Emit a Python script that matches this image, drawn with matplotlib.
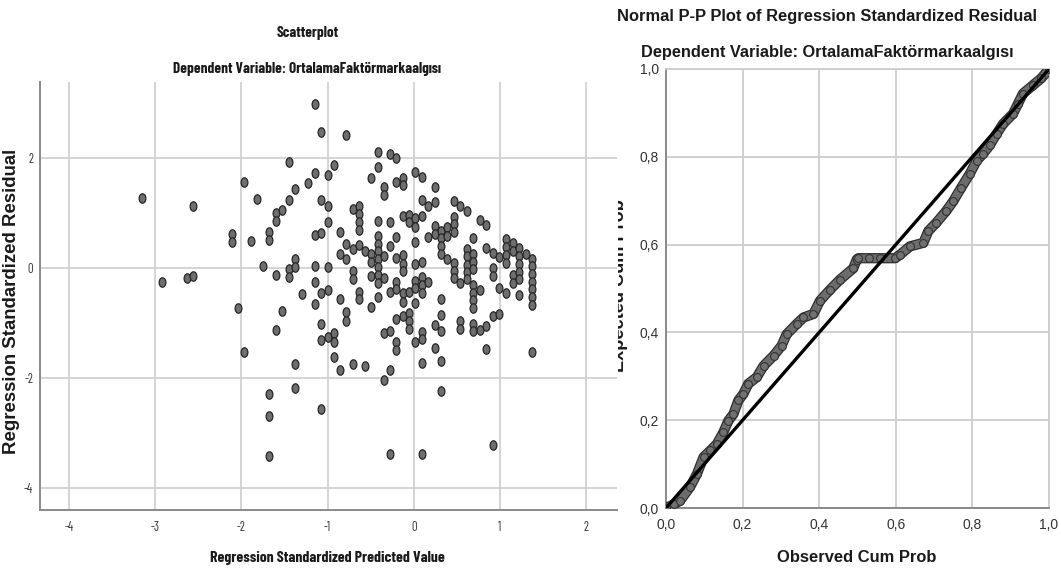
import matplotlib
matplotlib.use('Agg')
import numpy as np
import matplotlib.pyplot as plt
import matplotlib.patheffects as pe
from matplotlib import font_manager as fm
from matplotlib.path import Path
from matplotlib.transforms import Affine2D, Bbox, TransformedBbox

plt.rcParams['axes.unicode_minus'] = False

# --- scatterplot data: predicted value columns and the residuals in each column
pred_cols = [-3.15, -2.92, -2.63, -2.56, -2.11, -2.04, -1.97, -1.89, -1.82, -1.75,
             -1.68, -1.60, -1.53, -1.45, -1.38, -1.30, -1.23, -1.15, -1.08, -1.00,
             -0.93, -0.86, -0.79, -0.71, -0.64, -0.57, -0.49, -0.42, -0.34, -0.27,
             -0.20, -0.12, -0.05, 0.02, 0.10, 0.17, 0.25, 0.32, 0.39, 0.47,
             0.54, 0.62, 0.69, 0.77, 0.84, 0.92, 0.99, 1.07, 1.15, 1.22,
             1.30, 1.37]
resid_by_col = [
    [1.27], [-0.26], [-0.19], [1.13, -0.14], [0.62, 0.48], [-0.73], [1.56, -1.52],
    [0.49], [1.25], [0.04],
    [0.65, 0.50, -2.29, -2.70, -3.41],
    [0.99, 0.85, -0.13, -1.12],
    [1.05, -0.78],
    [1.93, 1.24, -0.02, -0.16],
    [1.43, 0.17, 0.02, -1.75, -2.18],
    [-0.48],
    [1.54],
    [2.98, 1.72, 0.60, 0.04, -0.25, -0.66],
    [2.47, 1.23, 0.64, -0.46, -1.02, -1.31, -2.56],
    [1.69, 1.13, 0.84, 0.01, -0.41, -1.25],
    [1.88, -1.19, -1.34, -1.62],
    [0.66, 0.25, -0.56, -1.85],
    [2.41, 0.44, 0.17, -0.80, -0.96],
    [1.07, 0.35, -0.05, -0.20, -1.74],
    [1.12, 0.98, 0.83, 0.69, 0.41, -0.43, -0.57],
    [0.31, -1.78],
    [1.64, 0.25, 0.11, -0.15, -0.71],
    [2.11, 1.84, 0.86, 0.58, 0.43, 0.31, 0.17, 0.02, -0.13, -0.27, -0.53],
    [1.47, 1.33, 0.21, -0.19, -1.19, -2.03],
    [2.08, 0.83, 0.40, -0.44, -1.14, -1.85, -3.38],
    [1.99, 1.57, 0.57, 0.18, -0.25, -0.39, -0.93, -1.35, -1.50],
    [1.63, 1.50, 0.94, 0.23, 0.08, -0.06, -0.46, -0.61, -0.88],
    [0.97, 0.84, -0.43, -0.82, -0.97, -1.11],
    [1.75, 0.90, 0.75, 0.47, 0.07, -0.23, -0.37, -0.64, -1.34],
    [1.66, 1.23, 0.94, 0.11, -0.16, -0.31, -0.46, -1.16, -1.30, -1.72, -3.39],
    [1.13, 0.57, -0.26],
    [1.47, 1.19, 0.77, 0.62, -1.04, -1.46],
    [0.68, 0.55, 0.40, 0.26, -0.57, -0.85, -1.14, -1.69, -2.24],
    [0.75, 0.58, 0.16],
    [1.22, 0.93, 0.79, 0.65, 0.09, -0.05, -0.18],
    [1.13, -0.28, -0.97, -1.11],
    [1.04, 0.35, 0.21, 0.06, -0.07, -0.20],
    [0.54, 0.26, 0.11, -0.02, -0.31, -0.45, -0.59, -0.73, -1.01, -1.15],
    [0.88, -0.40, -1.12],
    [0.78, 0.36, -1.05, -1.47],
    [0.27, -0.01, -0.15, -0.88, -3.22],
    [0.19, -0.36, -0.83],
    [0.52, 0.38, 0.23, 0.09, -0.46],
    [0.45, 0.30, -0.12, -0.27],
    [0.36, 0.21, 0.07, -0.07, -0.20, -0.49],
    [0.26],
    [0.17, 0.03, -0.11, -0.25, -0.39, -0.53, -0.67, -1.52],
]
sc_xticks = [-4, -3, -2, -1, 0, 1, 2]
sc_yticks = [-4, -2, 0, 2]

# --- P-P plot data
obs_prob = [0.000, 0.020, 0.037, 0.063, 0.081, 0.098, 0.116, 0.133, 0.150, 0.163,
            0.176, 0.189, 0.202, 0.215, 0.237, 0.255, 0.281, 0.302, 0.315, 0.341,
            0.359, 0.385, 0.402, 0.428, 0.454, 0.489, 0.498, 0.502, 0.530, 0.560,
            0.598, 0.611, 0.637, 0.672, 0.685, 0.706, 0.732, 0.750, 0.771, 0.793,
            0.811, 0.828, 0.845, 0.863, 0.880, 0.906, 0.919, 0.932, 0.958, 0.980,
            1.000]
exp_prob = [0.000, 0.008, 0.017, 0.048, 0.078, 0.116, 0.131, 0.146, 0.173, 0.199,
            0.214, 0.245, 0.260, 0.283, 0.298, 0.324, 0.347, 0.370, 0.396, 0.419,
            0.434, 0.442, 0.472, 0.497, 0.520, 0.546, 0.566, 0.569, 0.569, 0.569,
            0.569, 0.577, 0.596, 0.604, 0.631, 0.650, 0.677, 0.699, 0.730, 0.761,
            0.791, 0.807, 0.826, 0.852, 0.875, 0.898, 0.921, 0.944, 0.963, 0.979,
            1.000]
pp_ticks = [0.0, 0.2, 0.4, 0.6, 0.8, 1.0]
pp_labels = ['0,0', '0,2', '0,4', '0,6', '0,8', '1,0']

dep_title = 'Dependent Variable: OrtalamaFaktörmarkaalgısı'

W, H = 1061, 570

# the left chart is horizontally squeezed in the source, so use a narrow face if there is one
installed = set(f.name for f in fm.fontManager.ttflist)
narrow_face = 'DejaVu Sans'
for cand in ['Arial Narrow', 'Liberation Sans Narrow', 'Barlow Condensed',
             'Sofia Sans Condensed', 'Roboto Condensed', 'Archivo Narrow',
             'PT Sans Narrow', 'Fira Sans Condensed', 'IBM Plex Sans Condensed']:
    if cand in installed:
        narrow_face = cand
        break
narrow = [narrow_face, 'DejaVu Sans']
arial = ['Liberation Sans', 'DejaVu Sans']


def fx(px):
    return px / W


def fy(py):
    return 1 - py / H


fig = plt.figure(figsize=(W / 100, H / 100), dpi=100)
renderer = fig.canvas.get_renderer()


def fit(t, target, vertical=False):
    # scale the font so the text spans target pixels, like in the reference
    bb = t.get_window_extent(renderer)
    cur = bb.height if vertical else bb.width
    t.set_fontsize(t.get_fontsize() * target / cur)


# ---------------- left: scatterplot
ax1 = fig.add_axes([fx(40), fy(510), (617 - 40) / W, (510 - 82) / H])
xs, ys = [], []
for c, col in zip(pred_cols, resid_by_col):
    xs += [c] * len(col)
    ys += col
ellipse = Path.unit_circle().transformed(Affine2D().scale(0.72, 1.0))
ax1.scatter(xs, ys, s=46, marker=ellipse, facecolor='#6e6e6e',
            edgecolor='#262626', linewidths=0.9, zorder=3)
ax1.set_xlim(-4.335, 2.358)
ax1.set_ylim(-4.40, 3.38)
ax1.set_xticks(sc_xticks)
ax1.set_yticks(sc_yticks)
ax1.grid(color='#cdcdcd', lw=1.2)
ax1.set_axisbelow(True)
for s in ['top', 'right']:
    ax1.spines[s].set_visible(False)
for s in ['left', 'bottom']:
    ax1.spines[s].set_color('#8a8a8a')
    ax1.spines[s].set_linewidth(1.4)
ax1.tick_params(length=0, labelsize=9, labelcolor='#333333')
ax1.tick_params(axis='x', pad=8)
ax1.tick_params(axis='y', pad=5)
for lab in ax1.get_xticklabels() + ax1.get_yticklabels():
    lab.set_family(narrow)

t = fig.text(fx(308), fy(33), 'Scatterplot', ha='center', va='center',
             family=narrow, fontsize=10.5, fontweight='bold', color='#1a1a1a')
fit(t, 62)
t = fig.text(fx(307), fy(69), dep_title, ha='center', va='center',
             family=narrow, fontsize=10.5, fontweight='bold', color='#1a1a1a')
fit(t, 267)
t = fig.text(fx(327), fy(558), 'Regression Standardized Predicted Value', ha='center',
             va='center', family=narrow, fontsize=10.5, fontweight='bold',
             color='#1a1a1a')
fit(t, 234)
t = fig.text(fx(12), fy(301), 'Regression Standardized Residual', ha='center',
             va='center', rotation=90, family=arial, fontsize=11.5,
             fontweight='bold', color='#1a1a1a')
fit(t, 308, vertical=True)

# ---------------- right: normal P-P plot
ax2 = fig.add_axes([fx(666), fy(508), (1049 - 666) / W, (508 - 69) / H])
ax2.plot(obs_prob, exp_prob, color='#6c6c6c', lw=5.6, solid_capstyle='round',
         solid_joinstyle='round', zorder=3,
         path_effects=[pe.Stroke(linewidth=7.4, foreground='#2e2e2e'), pe.Normal()])
ax2.scatter(obs_prob, exp_prob, s=32, facecolor='#717171', edgecolor='#333333',
            linewidths=0.8, zorder=4)
ax2.plot([0, 1], [0, 1], color='black', lw=2.4, zorder=5)
ax2.set_xlim(0, 1)
ax2.set_ylim(0, 1)
ax2.set_xticks(pp_ticks)
ax2.set_yticks(pp_ticks)
ax2.set_xticklabels(pp_labels)
ax2.set_yticklabels(pp_labels)
ax2.grid(color='#cdcdcd', lw=1.3)
ax2.set_axisbelow(True)
for s in ['top', 'right']:
    ax2.spines[s].set_color('#cdcdcd')
    ax2.spines[s].set_linewidth(1.3)
for s in ['left', 'bottom']:
    ax2.spines[s].set_color('#8a8a8a')
    ax2.spines[s].set_linewidth(1.4)
ax2.tick_params(length=0, labelsize=10, labelcolor='#333333')
ax2.tick_params(axis='x', pad=7)
ax2.tick_params(axis='y', pad=5)
for lab in ax2.get_xticklabels() + ax2.get_yticklabels():
    lab.set_family(arial)

# the source image of this chart is cut off on its left side
clip = TransformedBbox(Bbox.from_extents(fx(618), 0, 1, 1), fig.transFigure)
t1 = fig.text(fx(1037), fy(16), 'Normal P-P Plot of Regression Standardized Residual',
              ha='right', va='center', family=arial, fontsize=11.5,
              fontweight='bold', color='#1a1a1a')
fit(t1, 425)
t1.set_clip_box(clip)
t1.set_clip_on(True)
t = fig.text(fx(827), fy(52), dep_title, ha='center', va='center', family=arial,
             fontsize=11.5, fontweight='bold', color='#1a1a1a')
fit(t, 376)
t = fig.text(fx(857), fy(557), 'Observed Cum Prob', ha='center', va='center',
             family=arial, fontsize=11.8, fontweight='bold', color='#1a1a1a')
fit(t, 159)
t2 = fig.text(fx(628), fy(286), 'Expected Cum Prob', ha='right', va='center',
              rotation=90, family=arial, fontsize=11.8, fontweight='bold',
              color='#1a1a1a')
fit(t2, 172, vertical=True)
t2.set_clip_box(clip)
t2.set_clip_on(True)

fig.savefig('out.png', dpi=100, facecolor='white')
